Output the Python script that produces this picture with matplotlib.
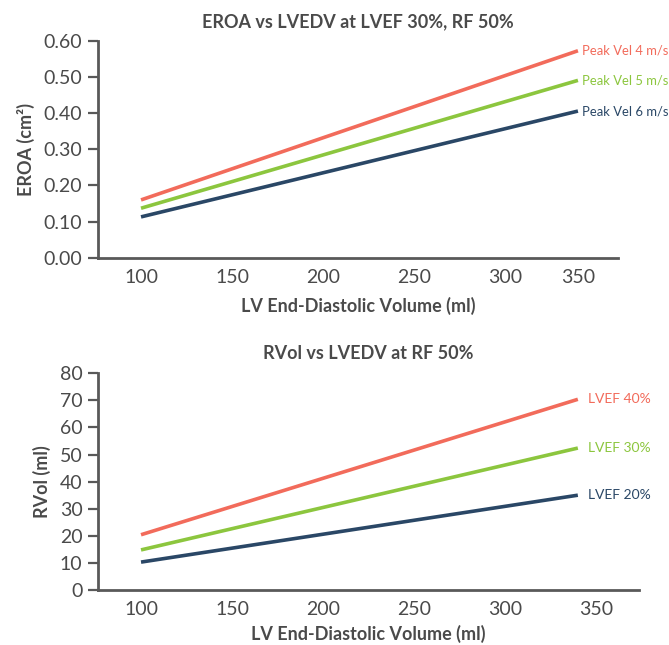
import matplotlib
matplotlib.use("Agg")
import matplotlib.pyplot as plt
import numpy as np

plt.rcParams['font.family'] = ['Lato', 'DejaVu Sans']

# ---- Data ----
top_lvedv = [100, 350]
top_series_names = ["Peak Vel 4 m/s", "Peak Vel 5 m/s", "Peak Vel 6 m/s"]
eroa_vel4 = [0.160, 0.573]
eroa_vel5 = [0.137, 0.491]
eroa_vel6 = [0.113, 0.406]
top_xticks = [100, 150, 200, 250, 300, 350]
top_yticks = [0.0, 0.1, 0.2, 0.3, 0.4, 0.5, 0.6]

bot_lvedv = [100, 340]
bot_series_names = ["LVEF 40%", "LVEF 30%", "LVEF 20%"]
rvol_ef40 = [20.4, 70.4]
rvol_ef30 = [14.8, 52.4]
rvol_ef20 = [10.3, 35.0]
bot_xticks = [100, 150, 200, 250, 300, 350]
bot_yticks = [0, 10, 20, 30, 40, 50, 60, 70, 80]

colors = ["#F26B5B", "#8CC63E", "#2A4766"]
axis_col = "#595959"
text_col = "#4a4a4a"

W, H = 669, 645
fig = plt.figure(figsize=(W / 100, H / 100), dpi=100)

def px_axes(x0, y0, x1, y1):
    return fig.add_axes([x0 / W, 1 - y1 / H, (x1 - x0) / W, (y1 - y0) / H])

def style(ax):
    for s in ["top", "right"]:
        ax.spines[s].set_visible(False)
    for s in ["left", "bottom"]:
        ax.spines[s].set_color(axis_col)
        ax.spines[s].set_linewidth(2)
    ax.tick_params(axis="y", length=7, width=1.6, color=axis_col,
                   labelsize=14, labelcolor=text_col, pad=4)
    ax.tick_params(axis="x", length=0, labelsize=14, labelcolor=text_col, pad=8)

# Top chart: the last category (350) sits closer to 300 than the others
def fwd(x):
    x = np.asarray(x, dtype=float)
    return np.where(x <= 300, x, 300 + (x - 300) * 0.8)

def inv(y):
    y = np.asarray(y, dtype=float)
    return np.where(y <= 300, y, 300 + (y - 300) / 0.8)

ax1 = px_axes(97.7, 41, 618, 257.7)
ax1.set_xscale("function", functions=(fwd, inv))
for vals, c, name in zip([eroa_vel4, eroa_vel5, eroa_vel6], colors, top_series_names):
    ax1.plot(top_lvedv, vals, color=c, lw=2.6, solid_capstyle="butt")
    ax1.annotate(name, (top_lvedv[-1], vals[-1]), xytext=(3, 0),
                 textcoords="offset points", color=c, fontsize=9.4,
                 va="center", ha="left", annotation_clip=False)
ax1.set_xlim(76.2, 377.5)
ax1.set_ylim(0, 0.6)
ax1.set_xticks(top_xticks)
ax1.set_xticklabels([str(t) for t in top_xticks])
ax1.set_yticks(top_yticks)
ax1.set_yticklabels([f"{t:.2f}" for t in top_yticks])
style(ax1)
ax1.set_title("EROA vs LVEDV at LVEF 30%, RF 50%", fontsize=13, fontweight="bold",
              color=text_col, pad=10)
ax1.set_xlabel("LV End-Diastolic Volume (ml)", fontsize=13, fontweight="bold",
               color=text_col, labelpad=8)
ax1.set_ylabel("EROA (cm²)", fontsize=13, fontweight="bold", color=text_col, labelpad=6)

# Bottom chart
ax2 = px_axes(97.7, 373.3, 639, 590)
for vals, c, name in zip([rvol_ef40, rvol_ef30, rvol_ef20], colors, bot_series_names):
    ax2.plot(bot_lvedv, vals, color=c, lw=2.6, solid_capstyle="butt")
    ax2.annotate(name, (bot_lvedv[-1], vals[-1]), xytext=(7, 0),
                 textcoords="offset points", color=c, fontsize=10,
                 va="center", ha="left", annotation_clip=False)
ax2.set_xlim(76.2, 373.6)
ax2.set_ylim(0, 80)
ax2.set_xticks(bot_xticks)
ax2.set_xticklabels([str(t) for t in bot_xticks])
ax2.set_yticks(bot_yticks)
style(ax2)
ax2.set_title("RVol vs LVEDV at RF 50%", fontsize=13, fontweight="bold",
              color=text_col, pad=10)
ax2.set_xlabel("LV End-Diastolic Volume (ml)", fontsize=13, fontweight="bold",
               color=text_col, labelpad=5)
ax2.set_ylabel("RVol (ml)", fontsize=13, fontweight="bold", color=text_col, labelpad=6)

fig.savefig("out.png", dpi=100, facecolor="white")
